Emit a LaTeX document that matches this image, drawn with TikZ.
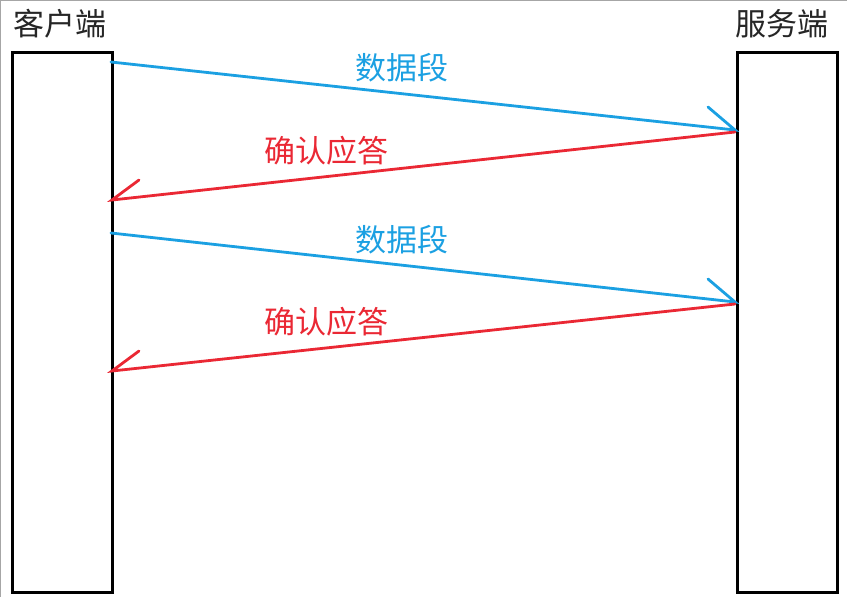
\documentclass[tikz,border=0pt]{standalone}
\usepackage{fontspec}
\newfontfamily\cjk{Noto Sans CJK SC}
\definecolor{segblue}{RGB}{27,160,226}
\definecolor{ackred}{RGB}{234,40,52}
\begin{document}
\begin{tikzpicture}[x=1pt,y=-1pt,
  hostbox/.style={draw=black,line width=2.8pt,minimum width=100pt,minimum height=540pt,inner sep=0pt,anchor=north west},
  title/.style={font=\cjk\fontsize{31}{33}\selectfont,text=black!85,inner sep=0pt},
  seg/.style={draw=segblue,line width=2.8pt,line cap=round},
  ack/.style={draw=ackred,line width=2.8pt,line cap=round},
  seglab/.style={font=\cjk\fontsize{31}{33}\selectfont,text=segblue,inner sep=0pt},
  acklab/.style={font=\cjk\fontsize{31}{33}\selectfont,text=ackred,inner sep=0pt}]
\useasboundingbox (0,0) rectangle (847,597);
\draw[black!35,line width=1pt] (0.5,597) -- (0.5,0.5) -- (847,0.5);
\node[hostbox] (client) at (11,51) {};
\node[hostbox] (server) at (736,51) {};
\node[title] (ct) at (60,24) {客户端};
\node[title] (st) at (782,24) {服务端};
% coordinates on box sides
\coordinate (c1) at (111,62);
\coordinate (s1) at (735,130);
\coordinate (s1b) at (708,107);
\coordinate (s2) at (735,132);
\coordinate (c2) at (112,200);
\coordinate (c2b) at (139,180);
\coordinate (c3) at (111,233);
\coordinate (s3) at (735,302);
\coordinate (s3b) at (708,279);
\coordinate (s4) at (735,304);
\coordinate (c4) at (112,371);
\coordinate (c4b) at (139,351);
\draw[seg] (c1) -- (s1) -- (s1b);
\draw[ack] (s2) -- (c2) -- (c2b);
\draw[seg] (c3) -- (s3) -- (s3b);
\draw[ack] (s4) -- (c4) -- (c4b);
\node[seglab] (l1) at (402,68) {数据段};
\node[acklab] (l2) at (326,151) {确认应答};
\node[seglab] (l3) at (402,240) {数据段};
\node[acklab] (l4) at (326,322) {确认应答};
\end{tikzpicture}
\end{document}
